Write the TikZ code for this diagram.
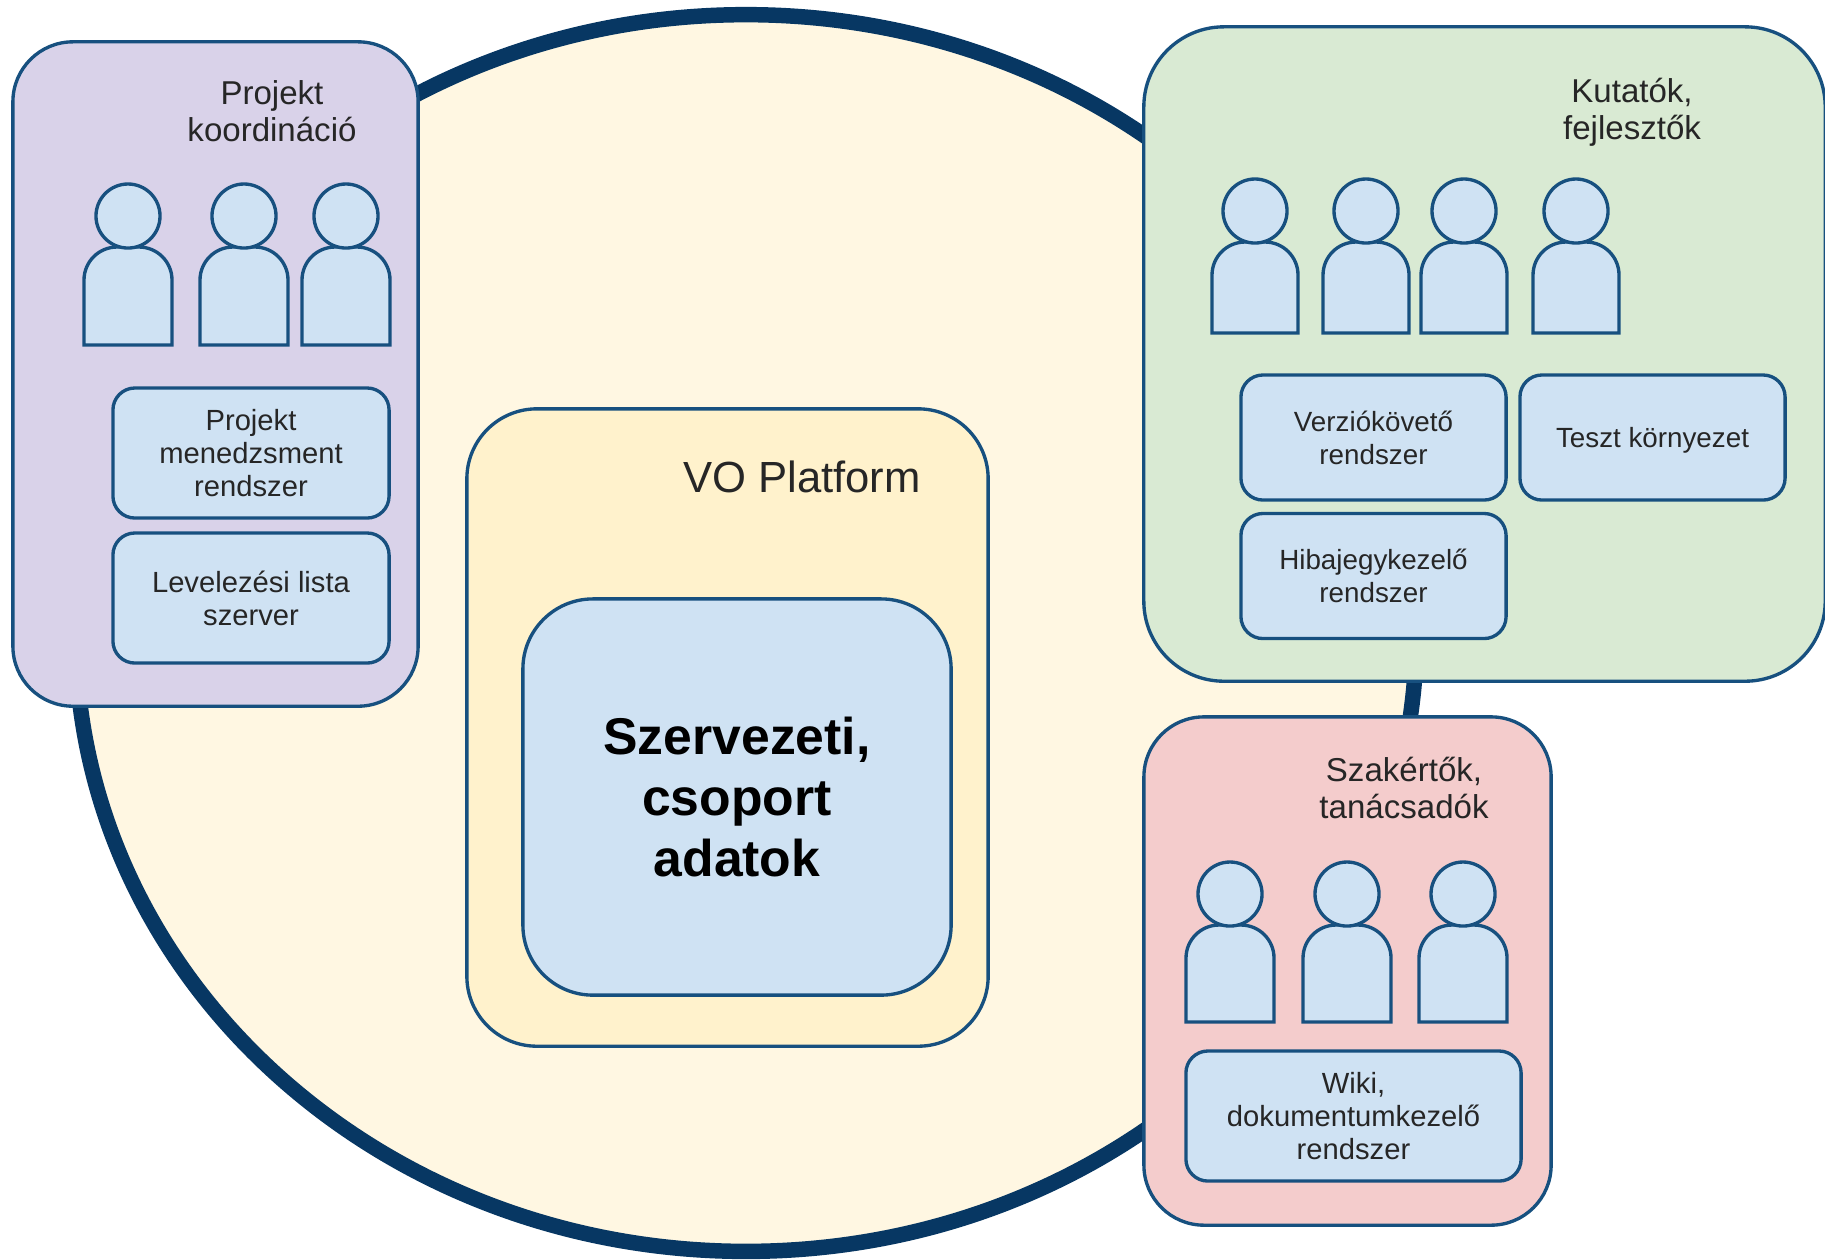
\documentclass[tikz,border=0pt]{standalone}
\usepackage{fontspec}
\setmainfont{Liberation Sans}
\usetikzlibrary{positioning,calc,shapes.geometric}
\definecolor{platformline}{HTML}{073763}
\definecolor{boxline}{HTML}{17507F}
\definecolor{platformfill}{HTML}{FFF7E2}
\definecolor{vofill}{HTML}{FFF2CC}
\definecolor{bluefill}{HTML}{CFE2F3}
\definecolor{purplefill}{HTML}{D9D2E9}
\definecolor{greenfill}{HTML}{D9EAD3}
\definecolor{redfill}{HTML}{F4CCCC}
\tikzset{
	groupbox/.style = {draw = boxline, line width = 0.95pt, rounded corners = 0.7cm, inner sep = 0pt},
	toolbox/.style = {draw = boxline, line width = 0.95pt, fill = bluefill, rounded corners = 0.22cm, inner sep = 0pt, align = center, text = black!85, font = \fontsize{8.3}{9.4}\selectfont},
	devtool/.style = {toolbox, font = \fontsize{7.9}{9.4}\selectfont},
	title/.style = {align = center, text = black!85, font = \fontsize{9.4}{10.5}\selectfont},
	person/.style = {draw = boxline, line width = 0.95pt, fill = bluefill}
}
\newcommand{\people}[4]{%
	\foreach \x in {#1} {
		\draw [person, rounded corners = 0.33cm] (\x-#4, #3) -- (\x-#4, #2+31) -- (\x+#4, #2+31) [sharp corners] -- (\x+#4, #3) -- cycle;
		\draw [person] (\x, #2) circle (0.32cm);
	}%
}

\begin{document}
\begin{tikzpicture}[x = 0.01cm, y = -0.01cm]
\useasboundingbox (0, 0) rectangle (1825, 1259);

% platform
\node [ellipse, draw = platformline, fill = platformfill, line width = 4.4pt, minimum width = 13.40cm, minimum height = 12.36cm, inner sep = 0pt] (platform) at (746, 633) {};
\node [groupbox, fill = vofill, minimum width = 5.21cm, minimum height = 6.37cm] (vo) at (727.5, 727.5) {};
\node [title, font = \fontsize{12.4}{14}\selectfont] (votitle) at (802, 477) {VO Platform};
\node [groupbox, fill = bluefill, minimum width = 4.28cm, minimum height = 3.96cm, align = center, font = \fontsize{14.7}{17.3}\selectfont\bfseries] (data) at (737, 797) {Szervezeti,\\csoport\\adatok};

% koordinacio
\begin{scope}
	\node [groupbox, fill = purplefill, minimum width = 4.05cm, minimum height = 6.64cm, rounded corners = 0.6cm] (coordbox) at (215.5, 374) {};
	\node [title] (coordtitle) at (272, 111) {Projekt\\koordináció};
	\people{128, 244, 346}{216}{345}{44}
	\node [toolbox, minimum width = 2.76cm, minimum height = 1.30cm] (pmtool) at (251, 453) {Projekt\\menedzsment\\rendszer};
	\node [toolbox, minimum width = 2.76cm, minimum height = 1.30cm] (listtool) at (251, 598) {Levelezési lista\\szerver};
\end{scope}

% fejlesztok
\begin{scope}
	\node [groupbox, fill = greenfill, minimum width = 6.81cm, minimum height = 6.54cm, rounded corners = 0.8cm] (devbox) at (1484.5, 354) {};
	\node [title] (devtitle) at (1632, 112) {Kutatók,\\fejlesztők};
	\people{1255, 1366, 1464, 1576}{211}{333}{43}
	\node [devtool, minimum width = 2.65cm, minimum height = 1.25cm] (vcstool) at (1373.5, 437.5) {Verziókövető\\rendszer};
	\node [devtool, minimum width = 2.65cm, minimum height = 1.25cm, text depth = 0pt] (testtool) at (1652.5, 437.5) {Teszt környezet};
	\node [devtool, minimum width = 2.65cm, minimum height = 1.25cm] (bugtool) at (1373.5, 576) {Hibajegykezelő\\rendszer};
\end{scope}

% tanacsadok
\begin{scope}
	\node [groupbox, fill = redfill, minimum width = 4.07cm, minimum height = 5.08cm, rounded corners = 0.6cm] (expertbox) at (1347.5, 971) {};
	\node [title] (experttitle) at (1404, 788) {Szakértők,\\tanácsadók};
	\people{1230, 1347, 1463}{894}{1022}{44}
	\node [toolbox, minimum width = 3.35cm, minimum height = 1.30cm] (wikitool) at (1353.5, 1116) {Wiki,\\dokumentumkezelő\\rendszer};
\end{scope}

\end{tikzpicture}
\end{document}
